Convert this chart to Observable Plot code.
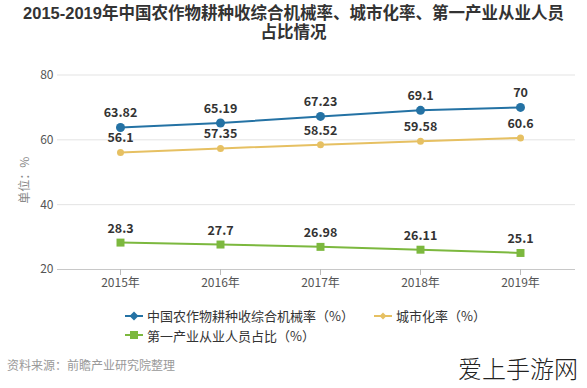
<!DOCTYPE html>
<html><head><meta charset="utf-8">
<script src="https://cdn.jsdelivr.net/npm/d3@7"></script>
<script src="https://cdn.jsdelivr.net/npm/@observablehq/plot@0.6"></script>
<style>
body{margin:0;background:#fff;font-family:"Noto Sans CJK SC","Noto Sans",sans-serif;}
#wrap{position:relative;width:587px;height:388px;overflow:hidden;}
.title{position:absolute;left:0;width:587px;text-align:center;font-family:"Liberation Sans","Noto Sans CJK SC",sans-serif;font-size:16.5px;font-weight:bold;line-height:18px;height:18px;color:#333;}
#t1{top:4px;} #t2{top:23px;}
#chart{position:absolute;left:0;top:45px;}
#legend{position:absolute;left:125px;top:306px;font-size:13px;color:#333;line-height:19px;}
.li{display:inline-flex;align-items:center;margin-right:20px;}
.li svg{margin-right:3px;}
#src{position:absolute;left:7px;top:356px;font-size:12px;color:#999;}
#wm{position:absolute;left:458px;top:350px;font-size:24px;color:#222;font-weight:300;letter-spacing:0px;}
</style></head>
<body><div id="wrap">
<div class="title" id="t1">2015-2019年中国农作物耕种收综合机械率、城市化率、第一产业从业人员</div>
<div class="title" id="t2">占比情况</div>
<div id="chart"></div>
<div id="legend"></div>
<div id="src">资料来源：前瞻产业研究院整理</div>
<div id="wm">爱上手游网</div>
</div>
<script>
const years = ["2015年","2016年","2017年","2018年","2019年"];
const mech = [63.82,65.19,67.23,69.1,70];
const urban = [56.1,57.35,58.52,59.58,60.6];
const primary = [28.3,27.7,26.98,26.11,25.1];
const seriesNames = ["中国农作物耕种收综合机械率（%）","城市化率（%）","第一产业从业人员占比（%）"];
const colors = ["#2472a4","#e6c062","#7cb83e"];
const yTicks = [20,40,60,80];

const rows = [];
[mech,urban,primary].forEach((arr,si)=>arr.forEach((v,i)=>rows.push({year:years[i],value:v,series:seriesNames[si]})));
const sel = s => rows.filter(d=>d.series===s);

const chart = Plot.plot({
  width:587, height:255,
  marginLeft:57, marginRight:12, marginTop:29.5, marginBottom:31,
  style:{fontFamily:"'Noto Sans CJK SC','Noto Sans',sans-serif", fontSize:"12px", color:"#555", background:"transparent"},
  x:{type:"point", domain:years, range:[118,521], padding:0, label:null},
  y:{domain:[20,80], ticks:yTicks, label:null},
  marks:[
    Plot.ruleY([40,60,80],{stroke:"#e3e3e3"}),
    Plot.ruleY([20],{stroke:"#c8c8c8"}),
    Plot.axisX({tickSize:6, tickPadding:3, stroke:"#bbb", fontSize:12, color:"#555"}),
    Plot.axisY({tickSize:0, tickPadding:4, ticks:yTicks, fontSize:12, color:"#555"}),
    Plot.text(["单位：%"],{frameAnchor:"left", dx:-32, dy:8, rotate:-90, textAnchor:"middle", fill:"#888", fontSize:12}),
    Plot.line(sel(seriesNames[0]),{x:"year",y:"value",stroke:colors[0],strokeWidth:2}),
    Plot.line(sel(seriesNames[1]),{x:"year",y:"value",stroke:colors[1],strokeWidth:2}),
    Plot.line(sel(seriesNames[2]),{x:"year",y:"value",stroke:colors[2],strokeWidth:2}),
    Plot.dot(sel(seriesNames[0]),{x:"year",y:"value",fill:colors[0],r:4.5}),
    Plot.dot(sel(seriesNames[1]),{x:"year",y:"value",fill:colors[1],r:3.5}),
    Plot.dot(sel(seriesNames[2]),{x:"year",y:"value",fill:colors[2],symbol:"square",r:4.5}),
    Plot.text(rows,{x:"year",y:"value",text:d=>String(d.value),dy:-14,fill:"#333",fontWeight:"bold",fontSize:12.5})
  ]
});
document.getElementById("chart").appendChild(chart);

const lg = document.getElementById("legend");
const shapes = [
  c=>`<line x1="0" y1="6" x2="18" y2="6" stroke="${c}" stroke-width="2"/><path d="M9 1.5L13.5 6L9 10.5L4.5 6Z" fill="${c}"/>`,
  c=>`<line x1="0" y1="6" x2="18" y2="6" stroke="${c}" stroke-width="2"/><path d="M9 2.5L12.5 6L9 9.5L5.5 6Z" fill="${c}"/>`,
  c=>`<line x1="0" y1="6" x2="18" y2="6" stroke="${c}" stroke-width="2"/><rect x="5" y="2" width="8" height="8" fill="${c}"/>`
];
seriesNames.forEach((n,i)=>{
  const s=document.createElement("span"); s.className="li";
  s.innerHTML=`<svg width="19" height="12">${shapes[i](colors[i])}</svg>${n}`;
  lg.appendChild(s);
  if(i===1) lg.appendChild(document.createElement("br"));
});
</script>
</body></html>
